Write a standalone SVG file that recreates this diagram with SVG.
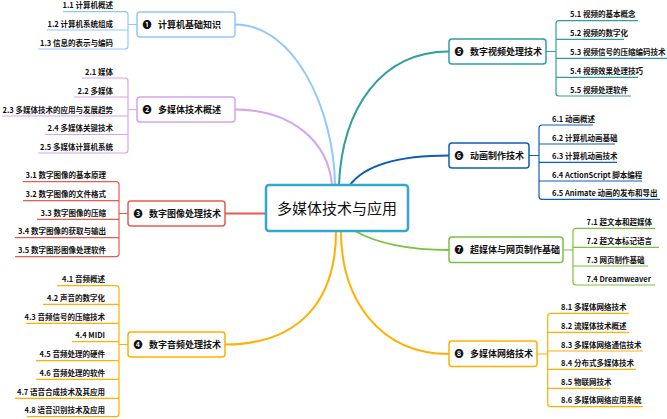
<svg xmlns="http://www.w3.org/2000/svg" width="667" height="419" viewBox="0 0 667 419">
<style>
text{font-family:"Noto Sans CJK SC","Noto Sans",sans-serif;fill:#111}
.mt{font-size:9px;font-weight:bold}
.c{font-size:7.5px;font-weight:bold}
.l{text-anchor:end}
.box{fill:#fff;stroke-width:1.5}
.u{fill:none;stroke-width:1.2}
.cv{fill:none;stroke-width:2}
.k1{stroke:#8fc8ff}.k2{stroke:#d7a4ef}.k3{stroke:#e65c4f}.k4{stroke:#ffb000}
.k5{stroke:#2e9ea3}.k6{stroke:#0d5fb3}.k7{stroke:#7cc142}.k8{stroke:#ffb000}
</style>
<rect width="667" height="419" fill="#fff"/>
<g id="connectors">
<path class="cv k1" d="M235,24.5 C295,24.5 334,110 335,185"/>
<path class="cv k2" d="M235,109.5 C290,109.5 328,140 332,185"/>
<path class="cv k3" d="M225,213.5 H266"/>
<path class="cv k4" d="M225,344.5 C300,344.5 336,300 336,231"/>
<path class="cv k5" d="M449,51.5 C380,51.5 342,110 339,185"/>
<path class="cv k6" d="M449,155.5 C400,155.5 365,165 350,185"/>
<path class="cv k7" d="M355,231 C380,245 410,250 449,250"/>
<path class="cv k8" d="M341,231 C341,300 380,354 449,354"/>
<path class="u k1" d="M125,11.7 Q128,11.7 128,14.7 V46 Q128,49 125,49 M128,24.5 H137"/>
<path class="u k2" d="M125,78 Q128,78 128,81 V150 Q128,153 125,153 M128,109.5 H137"/>
<path class="u k3" d="M116,181.7 Q119,181.7 119,184.7 V253.7 Q119,256.7 116,256.7 M119,213.5 H128"/>
<path class="u k4" d="M116,285.7 Q119,285.7 119,288.7 V413.7 Q119,416.7 116,416.7 M119,344.5 H128"/>
<path class="u k5" d="M559,20.7 Q556,20.7 556,23.7 V93 Q556,96 559,96 M546,51.5 H556"/>
<path class="u k6" d="M542,125 Q539,125 539,128 V196.3 Q539,199.3 542,199.3 M529,155.5 H539"/>
<path class="u k7" d="M576,228.3 Q573,228.3 573,231.3 V282 Q573,285 576,285 M563,250 H573"/>
<path class="u k8" d="M550.7,313.3 Q547.7,313.3 547.7,316.3 V403.7 Q547.7,406.7 550.7,406.7 M537,354 H547.7"/>
</g>
<g id="center">
<rect x="266" y="185" width="142" height="46" rx="3" fill="#fff" stroke="#33a6d3" stroke-width="2.5"/>
<text x="337" y="213.5" font-size="15" text-anchor="middle">多媒体技术与应用</text>
</g>
<g id="n1">
<rect class="box k1" x="137" y="12" width="98" height="25" rx="3"/>
<text class="mt" x="142.5" y="27.7">❶ <tspan x="158">计算机基础知识</tspan></text>
</g>
<g id="n1-1"><text class="c l" x="113" y="8.2">1.1 计算机概述</text><path class="u k1" d="M63,11.7H125"/></g>
<g id="n1-2"><text class="c l" x="113" y="26.5">1.2 计算机系统组成</text><path class="u k1" d="M47,30H128"/></g>
<g id="n1-3"><text class="c l" x="113" y="45.5">1.3 信息的表示与编码</text><path class="u k1" d="M38,49H125"/></g>
<g id="n2">
<rect class="box k2" x="137" y="97" width="98" height="25" rx="3"/>
<text class="mt" x="142.5" y="112.7">❷ <tspan x="158">多媒体技术概述</tspan></text>
</g>
<g id="n2-1"><text class="c l" x="113" y="74.5">2.1 媒体</text><path class="u k2" d="M82,78H125"/></g>
<g id="n2-2"><text class="c l" x="113" y="93.5">2.2 多媒体</text><path class="u k2" d="M74,97H128"/></g>
<g id="n2-3"><text class="c l" x="113" y="112.5">2.3 多媒体技术的应用与发展趋势</text><path class="u k2" d="M2,116H128"/></g>
<g id="n2-4"><text class="c l" x="113" y="131">2.4 多媒体关键技术</text><path class="u k2" d="M45,134.5H128"/></g>
<g id="n2-5"><text class="c l" x="113" y="149.5">2.5 多媒体计算机系统</text><path class="u k2" d="M38,153H125"/></g>
<g id="n3">
<rect class="box k3" x="128" y="201" width="97" height="25" rx="3"/>
<text class="mt" x="133.5" y="216.7">❸ <tspan x="149">数字图像处理技术</tspan></text>
</g>
<g id="n3-1"><text class="c l" x="106" y="178.2">3.1 数字图像的基本原理</text><path class="u k3" d="M23,181.7H116"/></g>
<g id="n3-2"><text class="c l" x="106" y="197.2">3.2 数字图像的文件格式</text><path class="u k3" d="M23,200.7H119"/></g>
<g id="n3-3"><text class="c l" x="106" y="215.8">3.3 数字图像的压缩</text><path class="u k3" d="M37,219.3H119"/></g>
<g id="n3-4"><text class="c l" x="106" y="234.2">3.4 数字图像的获取与输出</text><path class="u k3" d="M15,237.7H119"/></g>
<g id="n3-5"><text class="c l" x="106" y="253.2">3.5 数字图形图像处理软件</text><path class="u k3" d="M15,256.7H116"/></g>
<g id="n4">
<rect class="box k4" x="128" y="332" width="97" height="25" rx="3"/>
<text class="mt" x="133.5" y="347.7">❹ <tspan x="149">数字音频处理技术</tspan></text>
</g>
<g id="n4-1"><text class="c l" x="105" y="282.2">4.1 音频概述</text><path class="u k4" d="M57,285.7H116"/></g>
<g id="n4-2"><text class="c l" x="105" y="300.8">4.2 声音的数字化</text><path class="u k4" d="M43,304.3H119"/></g>
<g id="n4-3"><text class="c l" x="105" y="319.8">4.3 音频信号的压缩技术</text><path class="u k4" d="M26,323.3H119"/></g>
<g id="n4-4"><text class="c l" x="105" y="338.2">4.4 MIDI</text><path class="u k4" d="M72,341.7H119"/></g>
<g id="n4-5"><text class="c l" x="105" y="357.2">4.5 音频处理的硬件</text><path class="u k4" d="M36,360.7H119"/></g>
<g id="n4-6"><text class="c l" x="105" y="375.8">4.6 音频处理的软件</text><path class="u k4" d="M36,379.3H119"/></g>
<g id="n4-7"><text class="c l" x="105" y="394.8">4.7 语音合成技术及其应用</text><path class="u k4" d="M15,398.3H119"/></g>
<g id="n4-8"><text class="c l" x="105" y="413.2">4.8 语音识别技术及应用</text><path class="u k4" d="M27,416.7H116"/></g>
<g id="n5">
<rect class="box k5" x="449" y="39" width="97" height="25" rx="3"/>
<text class="mt" x="454.5" y="54.7">❺ <tspan x="470">数字视频处理技术</tspan></text>
</g>
<g id="n5-1"><text class="c" x="570" y="17.2">5.1 视频的基本概念</text><path class="u k5" d="M559,20.7H638"/></g>
<g id="n5-2"><text class="c" x="570" y="35.8">5.2 视频的数字化</text><path class="u k5" d="M556,39.3H624"/></g>
<g id="n5-3"><text class="c" x="570" y="54.8">5.3 视频信号的压缩编码技术</text><path class="u k5" d="M556,58.3H667"/></g>
<g id="n5-4"><text class="c" x="570" y="73.8">5.4 视频效果处理技巧</text><path class="u k5" d="M556,77.3H638"/></g>
<g id="n5-5"><text class="c" x="570" y="92.5">5.5 视频处理软件</text><path class="u k5" d="M559,96H631"/></g>
<g id="n6">
<rect class="box k6" x="449" y="143" width="80" height="25" rx="3"/>
<text class="mt" x="454.5" y="158.7">❻ <tspan x="470">动画制作技术</tspan></text>
</g>
<g id="n6-1"><text class="c" x="552" y="121.5">6.1 动画概述</text><path class="u k6" d="M542,125H593"/></g>
<g id="n6-2"><text class="c" x="552" y="140.5">6.2 计算机动画基础</text><path class="u k6" d="M539,144H615"/></g>
<g id="n6-3"><text class="c" x="552" y="158.8">6.3 计算机动画技术</text><path class="u k6" d="M539,162.3H617"/></g>
<g id="n6-4"><text class="c" x="552" y="177.5">6.4 ActionScript 脚本编程</text><path class="u k6" d="M539,181H642"/></g>
<g id="n6-5"><text class="c" x="552" y="195.8">6.5 Animate 动画的发布和导出</text><path class="u k6" d="M542,199.3H660"/></g>
<g id="n7">
<rect class="box k7" x="449" y="237" width="114" height="25.5" rx="3"/>
<text class="mt" x="454.5" y="253.2">❼ <tspan x="470">超媒体与网页制作基础</tspan></text>
</g>
<g id="n7-1"><text class="c" x="586.5" y="224.8">7.1 超文本和超媒体</text><path class="u k7" d="M576,228.3H655"/></g>
<g id="n7-2"><text class="c" x="586.5" y="243.8">7.2 超文本标记语言</text><path class="u k7" d="M573,247.3H659"/></g>
<g id="n7-3"><text class="c" x="586.5" y="262.5">7.3 网页制作基础</text><path class="u k7" d="M573,266H648"/></g>
<g id="n7-4"><text class="c" x="586.5" y="281.5">7.4 Dreamweaver</text><path class="u k7" d="M576,285H655"/></g>
<g id="n8">
<rect class="box k8" x="449" y="341" width="88" height="25.5" rx="3"/>
<text class="mt" x="454.5" y="357.2">❽ <tspan x="470">多媒体网络技术</tspan></text>
</g>
<g id="n8-1"><text class="c" x="561" y="309.8">8.1 多媒体网络技术</text><path class="u k8" d="M550.7,313.3H629"/></g>
<g id="n8-2"><text class="c" x="561" y="328.8">8.2 流媒体技术概述</text><path class="u k8" d="M547.7,332.3H629"/></g>
<g id="n8-3"><text class="c" x="561" y="347.5">8.3 多媒体网络通信技术</text><path class="u k8" d="M547.7,351H643"/></g>
<g id="n8-4"><text class="c" x="561" y="365.8">8.4 分布式多媒体技术</text><path class="u k8" d="M547.7,369.3H636"/></g>
<g id="n8-5"><text class="c" x="561" y="384.8">8.5 物联网技术</text><path class="u k8" d="M547.7,388.3H610"/></g>
<g id="n8-6"><text class="c" x="561" y="403.2">8.6 多媒体网络应用系统</text><path class="u k8" d="M550.7,406.7H643"/></g>
</svg>
